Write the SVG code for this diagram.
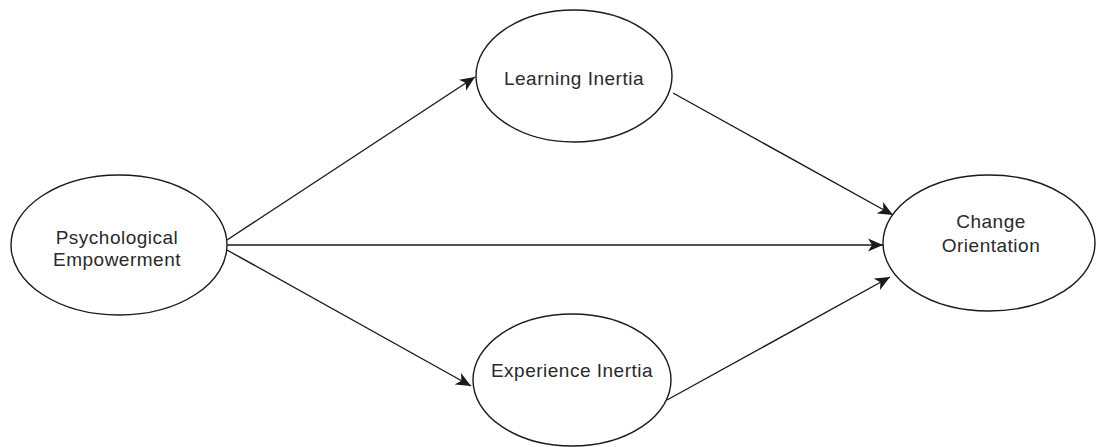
<svg xmlns="http://www.w3.org/2000/svg" width="1096" height="447" viewBox="0 0 1096 447">
<style>
.node{fill:#ffffff;stroke:#1a1a1a;stroke-width:1.4}
.lbl{font-family:"Liberation Sans",Arial,sans-serif;font-size:19px;letter-spacing:0.5px;fill:#2a2a2a;text-anchor:middle}
.edge{fill:none;stroke:#1a1a1a;stroke-width:1.4}
</style>
<defs>
<marker id="arr" markerUnits="userSpaceOnUse" markerWidth="16" markerHeight="14" viewBox="0 0 16 14" refX="15" refY="7" orient="auto">
<path d="M0,0.5 L15,7 L0,13.5 L4,7 z" fill="#1a1a1a"/>
</marker>
</defs>
<rect width="1096" height="447" fill="#ffffff"/>
<g id="connectors">
<line class="edge" x1="227" y1="240" x2="475" y2="77" marker-end="url(#arr)"/>
<line class="edge" x1="227" y1="245" x2="883" y2="245" marker-end="url(#arr)"/>
<line class="edge" x1="227" y1="250" x2="471" y2="386" marker-end="url(#arr)"/>
<line class="edge" x1="673" y1="93" x2="893" y2="215" marker-end="url(#arr)"/>
<line class="edge" x1="667" y1="400" x2="890" y2="277" marker-end="url(#arr)"/>
</g>
<g id="psychological-empowerment">
<ellipse class="node" cx="119" cy="245" rx="108" ry="70"/>
<text class="lbl" x="117" y="244">Psychological</text>
<text class="lbl" x="117" y="266">Empowerment</text>
</g>
<g id="learning-inertia">
<ellipse class="node" cx="574" cy="76" rx="98" ry="66"/>
<text class="lbl" x="574" y="85">Learning Inertia</text>
</g>
<g id="experience-inertia">
<ellipse class="node" cx="572" cy="380" rx="99" ry="66"/>
<text class="lbl" x="572" y="377">Experience Inertia</text>
</g>
<g id="change-orientation">
<ellipse class="node" cx="989" cy="243" rx="106" ry="68"/>
<text class="lbl" x="991" y="228">Change</text>
<text class="lbl" x="991" y="252">Orientation</text>
</g>
</svg>
